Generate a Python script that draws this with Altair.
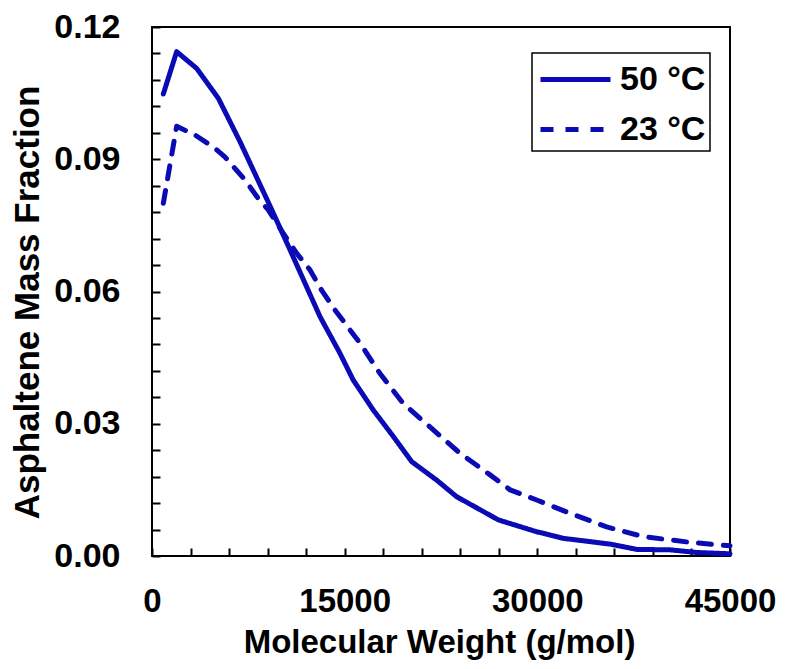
import altair as alt
import pandas as pd

# ---- data ----
mw_50 = [880, 1920, 3480, 5170, 6850, 9330, 10630, 13080, 14630, 15670, 17230,
         18790, 20220, 22170, 23720, 26960, 29950, 32030, 35660, 37740, 40330,
         42400, 45000]
frac_50 = [0.1048, 0.1144, 0.1106, 0.1038, 0.0940, 0.0785, 0.0702, 0.0543,
           0.0460, 0.0399, 0.0331, 0.0271, 0.0214, 0.0172, 0.01345, 0.0082,
           0.0055, 0.0040, 0.0027, 0.0015, 0.0014, 0.0008, 0.0005]

mw_23 = [880, 1920, 3350, 4900, 5690, 7240, 8270, 9050, 10220, 11255, 12300,
         13200, 14250, 16190, 17750, 19560, 21900, 23980, 26320, 27880, 29950,
         32540, 35400, 38240, 41620, 45000]
frac_23 = [0.0800, 0.0975, 0.0955, 0.0925, 0.0905, 0.0853, 0.0811, 0.0785,
           0.0732, 0.0687, 0.0649, 0.0603, 0.0558, 0.0483, 0.0414, 0.0346,
           0.0286, 0.0233, 0.0184, 0.0150, 0.0127, 0.0097, 0.0066, 0.0044,
           0.0032, 0.0023]

series_names = ["50 °C", "23 °C"]

x_tick_values = [0, 3000, 6000, 9000, 12000, 15000, 18000, 21000, 24000, 27000,
                 30000, 33000, 36000, 39000, 42000, 45000]
x_major_labels = ["0", "15000", "30000", "45000"]
y_tick_values = [0.0, 0.006, 0.012, 0.018, 0.024, 0.03, 0.036, 0.042, 0.048,
                 0.054, 0.06, 0.066, 0.072, 0.078, 0.084, 0.09, 0.096, 0.102,
                 0.108, 0.114, 0.12]
y_major_labels = ["0.00", "0.03", "0.06", "0.09", "0.12"]

df = pd.concat([
    pd.DataFrame({"mw": mw_50, "frac": frac_50, "series": series_names[0]}),
    pd.DataFrame({"mw": mw_23, "frac": frac_23, "series": series_names[1]}),
])

BLUE = "#0B0BB6"
FONT = "Liberation Sans"

x_major_js = "[" + ",".join("'%s'" % s for s in x_major_labels) + "]"
y_major_js = "[" + ",".join("'%s'" % s for s in y_major_labels) + "]"

legend_def = alt.Legend(title=None, labelExpr="datum.label + ' '")

chart = alt.Chart(df).mark_line(
    strokeWidth=5, strokeCap="round", strokeJoin="round"
).encode(
    x=alt.X(
        "mw:Q",
        scale=alt.Scale(domain=[0, 45000], nice=False, zero=False),
        axis=alt.Axis(
            title="Molecular Weight (g/mol)",
            values=x_tick_values,
            format="d",
            labelExpr="indexof(%s, datum.label) >= 0 ? datum.label : ''" % x_major_js,
            labelFlush=False,
            labelPadding=29,
            labelFontSize=33,
            offset=-8,
            tickSize=8,
            domain=False,
            grid=False,
            titleFontSize=33,
            titleX=287,
            titleY=104,
            titleBaseline="alphabetic",
        ),
    ),
    y=alt.Y(
        "frac:Q",
        scale=alt.Scale(domain=[0, 0.12], nice=False, zero=False),
        axis=alt.Axis(
            title="Asphaltene Mass Fraction",
            values=y_tick_values,
            format=".2f",
            labelExpr="indexof(%s, datum.label) >= 0 ? datum.label : ''" % y_major_js,
            labelFlush=False,
            labelPadding=32,
            offset=-8,
            tickSize=8,
            domain=False,
            grid=False,
            titleFontSize=35,
            titleX=-122,
            titleY=275,
            titleAngle=270,
            titleBaseline="alphabetic",
        ),
    ),
    color=alt.Color(
        "series:N",
        scale=alt.Scale(domain=series_names, range=[BLUE, BLUE]),
        legend=legend_def,
    ),
    strokeDash=alt.StrokeDash(
        "series:N",
        scale=alt.Scale(domain=series_names, range=[[1, 0], [13, 12]]),
        legend=legend_def,
    ),
).properties(
    width=578,
    height=529,
    autosize=alt.AutoSizeParams(type="none"),
    padding={"left": 144, "top": 19, "right": 47, "bottom": 105},
).configure_view(
    stroke="black", strokeWidth=2
).configure_axis(
    labelFont=FONT, labelFontSize=34, labelFontWeight="bold", labelColor="black",
    titleFont=FONT, titleFontSize=34, titleFontWeight="bold", titleColor="black",
    tickColor="black", tickWidth=2,
).configure_legend(
    orient="none",
    legendX=380,
    legendY=26,
    padding=4,
    strokeColor="black",
    strokeWidth=1.5,
    fillColor="white",
    symbolType="M-0.9,0H2.6",
    symbolSize=1600,
    symbolStrokeWidth=5,
    symbolFillColor="transparent",
    rowPadding=10,
    labelOffset=39,
    labelFont=FONT,
    labelFontSize=34,
    labelFontWeight="bold",
    labelColor="black",
)

chart.save("out.html", embed_options={"renderer": "svg", "actions": False})
